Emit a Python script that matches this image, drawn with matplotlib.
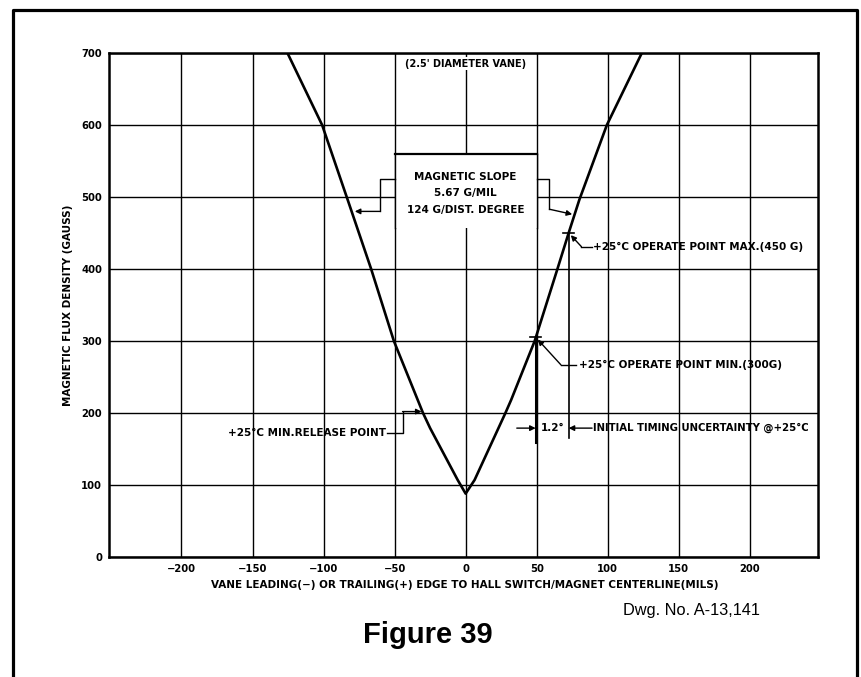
import matplotlib
matplotlib.use("Agg")
import matplotlib.pyplot as plt
from matplotlib.lines import Line2D
from matplotlib.patches import Rectangle

# ----------------------------------------------------------------------
# DATA (mils vs gauss)
# ----------------------------------------------------------------------
flux_x = [-125.4, -101, -83, -66.5, -50.5, -30, -25, -5.6, 0,
          6.3, 28, 32, 48.6, 64.6, 72.5, 80, 99.4, 124]
flux_y = [700, 600, 496, 400, 300, 200, 179, 107, 88,
          107, 200, 218, 300, 400, 450, 496, 600, 700]

x_ticks = [-200, -150, -100, -50, 0, 50, 100, 150, 200]
y_ticks = [0, 100, 200, 300, 400, 500, 600, 700]

op_max = (72.5, 450)     # +25C operate point max
op_min = (49.3, 305)     # +25C operate point min
rel_min = (-31, 202)     # +25C min release point

FONT = "DejaVu Sans"
FS = 7.5

fig = plt.figure(figsize=(8.61, 6.77), dpi=100)
ax = fig.add_axes([109 / 861, 1 - 557 / 677, 709 / 861, 504 / 677])

ax.set_xlim(-251, 248)
ax.set_ylim(0, 700)
ax.set_xticks(x_ticks)
ax.set_yticks(y_ticks)
ax.tick_params(length=0, labelsize=7.2, pad=5)
for lab in ax.get_xticklabels() + ax.get_yticklabels():
    lab.set_fontweight("bold")
    lab.set_family(FONT)
ax.set_axisbelow(True)
ax.grid(True, color="black", lw=1.0)
for sp in ax.spines.values():
    sp.set_linewidth(1.8)

# white box for the slope note
ax.add_patch(Rectangle((-50, 457), 100, 103, fc="white", ec="none", zorder=1))
ax.plot([-50, 50], [560, 560], color="black", lw=1.6, zorder=2)
ax.plot([-50, -50], [457, 560], color="black", lw=1.0, zorder=2)
ax.plot([50, 50], [457, 560], color="black", lw=1.0, zorder=2)

# curve
ax.plot(flux_x, flux_y, color="black", lw=1.9, zorder=4,
        solid_joinstyle="round", solid_capstyle="round")

txt = dict(fontsize=FS, fontweight="bold", family=FONT, color="black", zorder=5)
arr = dict(arrowstyle="-|>", color="black", lw=1.0, mutation_scale=8,
           shrinkA=0, shrinkB=0)

ax.text(0, 685, "(2.5' DIAMETER VANE)", ha="center", va="center",
        bbox=dict(fc="white", ec="none", pad=1),
        **{**txt, "fontsize": 7})

ax.text(0, 528, "MAGNETIC SLOPE", ha="center", va="center", **txt)
ax.text(0, 505, "5.67 G/MIL", ha="center", va="center", **txt)
ax.text(0, 482, "124 G/DIST. DEGREE", ha="center", va="center", **txt)

# slope leaders
ax.plot([-50, -60.5, -60.5], [525, 525, 480], color="black", lw=1.0, zorder=3)
ax.annotate("", xy=(-78, 480), xytext=(-60.5, 480), arrowprops=arr, zorder=3)
ax.plot([50, 59, 59], [525, 525, 483], color="black", lw=1.0, zorder=3)
ax.annotate("", xy=(75, 476), xytext=(59, 483), arrowprops=arr, zorder=3)

# operate point max
ax.plot([op_max[0] - 4, op_max[0] + 4], [op_max[1], op_max[1]], color="black", lw=1.2, zorder=4)
ax.plot([op_max[0], op_max[0]], [op_max[1], 165], color="black", lw=1.2, zorder=3)
ax.plot([81.5, 89], [431, 431], color="black", lw=1.0, zorder=3)
ax.annotate("", xy=(op_max[0] + 1.5, op_max[1] - 3), xytext=(81.5, 431), arrowprops=arr, zorder=3)
ax.text(89.5, 431, "+25°C OPERATE POINT MAX.(450 G)", ha="left", va="center", **txt)

# operate point min
ax.plot([op_min[0] - 4, op_min[0] + 4], [op_min[1], op_min[1]], color="black", lw=1.2, zorder=4)
ax.plot([op_min[0], op_min[0]], [op_min[1], 160], color="black", lw=2.2, zorder=3)
ax.plot([67, 78], [267, 267], color="black", lw=1.0, zorder=3)
ax.annotate("", xy=(op_min[0] + 1.5, op_min[1] - 3), xytext=(67, 267), arrowprops=arr, zorder=3)
ax.text(80, 267, "+25°C OPERATE POINT MIN.(300G)", ha="left", va="center", **txt)

# timing uncertainty dimension
ax.annotate("", xy=(op_min[0], 179), xytext=(36, 179), arrowprops=arr, zorder=3)
ax.annotate("", xy=(op_max[0], 179), xytext=(89, 179), arrowprops=arr, zorder=3)
ax.text(61, 179, "1.2°", ha="center", va="center", **txt)
ax.text(89.5, 179, "INITIAL TIMING UNCERTAINTY @+25°C", ha="left", va="center",
        **{**txt, "fontsize": 7.3})

# min release point
ax.plot([-55, -44.4, -44.4], [172, 172, rel_min[1]], color="black", lw=1.0, zorder=3)
ax.annotate("", xy=rel_min, xytext=(-44.4, rel_min[1]), arrowprops=arr, zorder=3)
ax.text(-56, 172, "+25°C MIN.RELEASE POINT", ha="right", va="center", **txt)

ax.set_xlabel("VANE LEADING(\u2212) OR TRAILING(+) EDGE TO HALL SWITCH/MAGNET CENTERLINE(MILS)",
              fontsize=FS, fontweight="bold", family=FONT)
ax.xaxis.set_label_coords(0.502, -0.0556)
ax.xaxis.label.set_va("center")
ax.set_ylabel("MAGNETIC FLUX DENSITY (GAUSS)", fontsize=FS, fontweight="bold", family=FONT)
ax.yaxis.set_label_coords(-0.0578, 0.5)
ax.yaxis.label.set_va("center")

fig.text(623 / 861, 1 - 610 / 677, "Dwg. No. A-13,141", fontsize=11.8,
         family="Liberation Sans", ha="left", va="center")
fig.text(428 / 861, 1 - 635 / 677, "Figure 39", fontsize=21, fontweight="bold",
         family="Liberation Sans", ha="center", va="center")

# page frame, open at the bottom
fx = [12.5 / 861, 12.5 / 861, 856.5 / 861, 856.5 / 861]
fy = [-0.01, 1 - 10 / 677, 1 - 10 / 677, -0.01]
fig.add_artist(Line2D(fx, fy, color="black", lw=2.3, transform=fig.transFigure))

fig.savefig("out.png", dpi=100)
